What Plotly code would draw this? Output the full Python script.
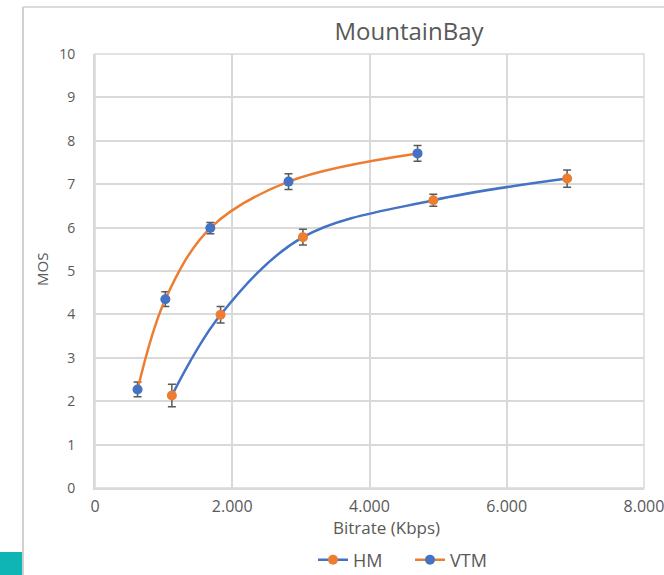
import plotly.graph_objects as go

# Bitrate (Kbps) and MOS with confidence half-widths for each codec
hm_bitrate = [1120, 1830, 3030, 4930, 6880]
hm_mos = [2.13, 3.99, 5.78, 6.63, 7.13]
hm_err = [0.26, 0.19, 0.18, 0.14, 0.20]

vtm_bitrate = [620, 1025, 1680, 2820, 4700]
vtm_mos = [2.27, 4.35, 5.99, 7.06, 7.71]
vtm_err = [0.17, 0.17, 0.13, 0.18, 0.18]

x_ticks = [0, 2000, 4000, 6000, 8000]
y_ticks = list(range(0, 11))

BLUE = "#4472C4"
ORANGE = "#ED7D31"
GRAY_TXT = "#595959"
GRID = "#D9D9D9"
FONT = "Open Sans"

W, H = 664, 575
L, R, T, B = 95, 20, 54, 87
PW = W - L - R
PH = H - T - B


def px_x(p):
    return (p - L) / PW


def px_y(p):
    return (H - B - p) / PH


fig = go.Figure()

fig.add_trace(go.Scatter(
    x=hm_bitrate, y=hm_mos, name="HM", mode="lines+markers",
    line=dict(color=BLUE, width=2.5, shape="spline", smoothing=1.0),
    marker=dict(color=ORANGE, size=10),
    error_y=dict(type="data", array=hm_err, color=GRAY_TXT, thickness=1.5, width=4),
))
fig.add_trace(go.Scatter(
    x=vtm_bitrate, y=vtm_mos, name="VTM", mode="lines+markers",
    line=dict(color=ORANGE, width=2.5, shape="spline", smoothing=1.0),
    marker=dict(color=BLUE, size=10),
    error_y=dict(type="data", array=vtm_err, color=GRAY_TXT, thickness=1.5, width=4),
))

shapes = [
    # plot-area frame
    dict(type="rect", xref="paper", yref="paper", x0=0, y0=0, x1=1, y1=1,
         line=dict(color=GRID, width=1.5), layer="below"),
    # outer chart border (left and top edges)
    dict(type="line", xref="paper", yref="paper", x0=px_x(23), x1=px_x(23),
         y0=px_y(7), y1=px_y(H), line=dict(color="#D0D0D0", width=2)),
    dict(type="line", xref="paper", yref="paper", x0=px_x(23), x1=px_x(W),
         y0=px_y(7), y1=px_y(7), line=dict(color="#D0D0D0", width=1.5)),
    # teal corner block
    dict(type="rect", xref="paper", yref="paper", x0=px_x(0), x1=px_x(22),
         y0=px_y(H), y1=px_y(552), fillcolor="#0FB5B5", line=dict(width=0)),
]

fig.update_layout(
    width=W, height=H,
    margin=dict(l=L, r=R, t=T, b=B, pad=0, autoexpand=False),
    paper_bgcolor="white", plot_bgcolor="white",
    separators=",.",
    font=dict(family=FONT, color=GRAY_TXT, size=12),
    title=dict(text="MountainBay", x=px_x(409), xref="paper", xanchor="center",
               y=1 - 32 / H, yanchor="middle",
               font=dict(size=24, color=GRAY_TXT, family=FONT)),
    xaxis=dict(range=[0, 8000], tickvals=x_ticks, tickformat=",",
               showgrid=True, gridcolor=GRID, gridwidth=2,
               showline=True, linecolor=GRID, linewidth=2,
               zeroline=False, ticks="", ticklen=0, automargin=False,
               ticklabelstandoff=3, ticklabeloverflow="allow",
               tickfont=dict(size=16, color=GRAY_TXT)),
    yaxis=dict(range=[0, 10], tickvals=y_ticks,
               showgrid=True, gridcolor=GRID, gridwidth=2,
               showline=True, linecolor=GRID, linewidth=2,
               zeroline=False, ticks="", automargin=False,
               ticklabelstandoff=15,
               tickfont=dict(size=14, color=GRAY_TXT)),
    legend=dict(orientation="h", xref="container", yref="container",
                x=410 / W, xanchor="center",
                y=(H - 560) / H, yanchor="middle",
                entrywidth=52, entrywidthmode="pixels",
                font=dict(size=18, color=GRAY_TXT), bgcolor="rgba(0,0,0,0)"),
    showlegend=True,
    shapes=shapes,
    annotations=[
        dict(text="Bitrate (Kbps)", xref="paper", yref="paper",
             x=px_x(386), y=px_y(527), xanchor="center", yanchor="middle",
             showarrow=False, font=dict(size=17, color=GRAY_TXT)),
        dict(text="MOS", xref="paper", yref="paper",
             x=px_x(42), y=px_y(270), xanchor="center", yanchor="middle",
             showarrow=False, textangle=-90,
             font=dict(size=15, color=GRAY_TXT)),
    ],
)

fig.write_html("out.html")
